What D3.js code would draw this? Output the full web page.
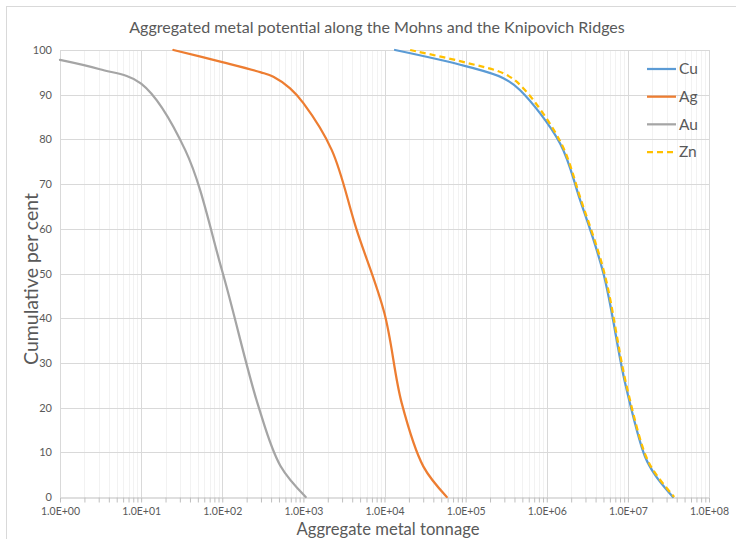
<!DOCTYPE html>
<html>
<head>
<meta charset="utf-8">
<script src="https://cdn.jsdelivr.net/npm/d3@7"></script>
<style>
  html, body { margin: 0; padding: 0; background: #fff; }
  svg { display: block; }
  text { font-family: Lato, "Open Sans", sans-serif; fill: #595959; }
</style>
</head>
<body>
<svg id="chart" width="736" height="539"></svg>
<script>
// Cumulative per cent vs aggregate tonnage (t) for each metal
const cuTonnage = [13500, 100000, 292000, 470000, 1460000, 2580000, 5000000, 9270000, 16300000, 21700000, 35900000];
const cuPercent = [100, 96.4, 93.7, 91, 79.1, 66.4, 50, 25.4, 9, 4.9, 0];

const agTonnage = [25, 100, 300, 427, 686, 1000, 2240, 4550, 9980, 16300, 30200, 58600];
const agPercent = [100, 97.3, 95, 94, 91.4, 88.1, 77.6, 59.7, 41.1, 21, 6.8, 0];

const auTonnage = [1, 3.1, 10, 35, 100, 280, 520, 1070];
const auPercent = [97.8, 95.7, 92.5, 77.6, 50.5, 20.2, 7, 0];

const znTonnage = [20700, 100000, 307000, 517000, 1500000, 2650000, 5150000, 9500000, 16800000, 22400000, 37200000];
const znPercent = [100, 97.2, 94.6, 91.4, 79.2, 66.4, 50, 25.4, 9, 5, 0];

const seriesNames = ["Cu", "Ag", "Au", "Zn"];
const yTicks = [0, 10, 20, 30, 40, 50, 60, 70, 80, 90, 100];
const xDecades = [1, 1e1, 1e2, 1e3, 1e4, 1e5, 1e6, 1e7, 1e8];

const chartTitle = "Aggregated metal potential along the Mohns and the Knipovich Ridges";
const xTitle = "Aggregate metal tonnage";
const yTitle = "Cumulative per cent";

const series = [
  { name: "Cu", x: cuTonnage, y: cuPercent, color: "#5B9BD5", dash: null },
  { name: "Ag", x: agTonnage, y: agPercent, color: "#ED7D31", dash: null },
  { name: "Au", x: auTonnage, y: auPercent, color: "#A5A5A5", dash: null },
  { name: "Zn", x: znTonnage, y: znPercent, color: "#FFC000", dash: "6,4" }
];

const svg = d3.select("#chart");
const plot = { left: 60, right: 709, top: 50, bottom: 497 };

// Outer chart frame
svg.append("rect")
  .attr("x", 6.5).attr("y", 6.5)
  .attr("width", 760).attr("height", 560)
  .attr("fill", "#fff").attr("stroke", "#d9d9d9").attr("stroke-width", 1);

const x = d3.scaleLog().domain([1, 1e8]).range([plot.left, plot.right]);
const y = d3.scaleLinear().domain([0, 100]).range([plot.bottom, plot.top]);

// Minor vertical gridlines (2..9 within each decade)
const minorVals = [];
for (let e = 0; e < 8; e++) for (let m = 2; m <= 9; m++) minorVals.push(m * Math.pow(10, e));

svg.append("g").selectAll("line").data(minorVals).join("line")
  .attr("x1", d => Math.round(x(d)) + 0.5).attr("x2", d => Math.round(x(d)) + 0.5)
  .attr("y1", plot.top).attr("y2", plot.bottom)
  .attr("stroke", "#f2f2f2").attr("stroke-width", 1);

// Major gridlines
svg.append("g").selectAll("line").data(yTicks.filter(d => d > 0)).join("line")
  .attr("x1", plot.left).attr("x2", plot.right)
  .attr("y1", d => Math.round(y(d)) + 0.5).attr("y2", d => Math.round(y(d)) + 0.5)
  .attr("stroke", "#d9d9d9").attr("stroke-width", 1);

svg.append("g").selectAll("line").data(xDecades).join("line")
  .attr("x1", d => Math.round(x(d)) + 0.5).attr("x2", d => Math.round(x(d)) + 0.5)
  .attr("y1", plot.top).attr("y2", plot.bottom)
  .attr("stroke", "#d9d9d9").attr("stroke-width", 1);

// X axis with major and minor tick marks
const fmtE = d => "1.0E+" + String(Math.round(Math.log10(d))).padStart(2, "0");
const xAxis = d3.axisBottom(x)
  .tickValues(xDecades.concat(minorVals))
  .tickFormat(d => xDecades.includes(d) ? fmtE(d) : "")
  .tickSizeInner(5).tickSizeOuter(0).tickPadding(5);

const gx = svg.append("g")
  .attr("transform", `translate(0,${Math.round(y(0)) + 0.5})`)
  .call(xAxis);
gx.select(".domain").attr("stroke", "#bfbfbf");
gx.selectAll(".tick line").attr("stroke", "#bfbfbf");
gx.selectAll(".tick text").attr("font-size", 10.5).attr("fill", "#595959")
  .style("font-family", "Lato, sans-serif");

// Y axis labels only
const yAxis = d3.axisLeft(y).tickValues(yTicks).tickSize(0).tickPadding(8);
const gy = svg.append("g").attr("transform", `translate(${plot.left},0)`).call(yAxis);
gy.select(".domain").remove();
gy.selectAll(".tick text").attr("font-size", 11).attr("fill", "#595959")
  .style("font-family", "Lato, sans-serif");

// Series lines, smoothed
const line = d3.line()
  .x(d => x(d[0])).y(d => y(d[1]))
  .curve(d3.curveCatmullRom.alpha(0.5));

svg.append("g").selectAll("path").data(series).join("path")
  .attr("d", s => line(s.x.map((v, i) => [v, s.y[i]])))
  .attr("fill", "none")
  .attr("stroke", s => s.color)
  .attr("stroke-width", 2.25)
  .attr("stroke-linecap", s => s.dash ? "butt" : "round")
  .attr("stroke-dasharray", s => s.dash);

// Legend
const legend = svg.append("g");
const legendY = d3.scalePoint().domain(seriesNames).range([69, 152]);
series.forEach(s => {
  const ly = legendY(s.name);
  legend.append("line")
    .attr("x1", 647).attr("x2", 676).attr("y1", ly).attr("y2", ly)
    .attr("stroke", s.color).attr("stroke-width", 2.25)
    .attr("stroke-dasharray", s.dash);
  legend.append("text")
    .attr("x", 679).attr("y", ly).attr("dy", "0.35em")
    .attr("font-size", 15.5).text(s.name);
});

// Titles
function fitText(sel, width) {
  const w = sel.node().getComputedTextLength();
  const fs = parseFloat(sel.attr("font-size"));
  sel.attr("font-size", fs * width / w);
}

const t = svg.append("text")
  .attr("x", 377).attr("y", 33).attr("text-anchor", "middle")
  .attr("font-size", 17).text(chartTitle);
fitText(t, 496);

const xt = svg.append("text")
  .attr("x", 388).attr("y", 535).attr("text-anchor", "middle")
  .attr("font-size", 17).text(xTitle);
fitText(xt, 183);

const yt = svg.append("text")
  .attr("transform", "translate(38,279) rotate(-90)")
  .attr("text-anchor", "middle")
  .attr("font-size", 17).text(yTitle);
fitText(yt, 172);
</script>
</body>
</html>
